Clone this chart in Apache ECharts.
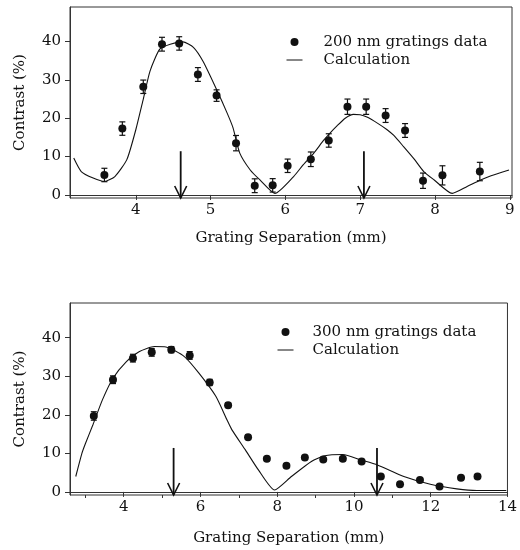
<!DOCTYPE html>
<html>
<head>
<meta charset="utf-8">
<script src="https://cdn.jsdelivr.net/npm/echarts@6/dist/echarts.min.js"></script>
<style>
  html, body { margin: 0; padding: 0; background: #fff; }
  #main { width: 520px; height: 550px; }
</style>
</head>
<body>
<div id="main"></div>
<script>
// ---- top panel: 200 nm gratings ----
var topX   = [3.58, 3.82, 4.10, 4.35, 4.58, 4.83, 5.08, 5.34, 5.59, 5.83, 6.03, 6.34, 6.58, 6.83, 7.08, 7.34, 7.60, 7.84, 8.10, 8.60];
var topY   = [5.2, 17.3, 28.2, 39.3, 39.5, 31.4, 25.9, 13.5, 2.4, 2.5, 7.6, 9.3, 14.2, 23.0, 23.0, 20.7, 16.8, 3.7, 5.1, 6.1];
var topErr = [1.75, 1.75, 1.75, 1.8, 1.75, 1.8, 1.5, 2.0, 1.8, 1.75, 1.75, 1.9, 1.75, 2.0, 2.0, 1.8, 1.8, 2.0, 2.5, 2.4];
var topCalcX = [3.17, 3.27, 3.43, 3.58, 3.72, 3.88, 4.0, 4.1, 4.19, 4.32, 4.46, 4.63, 4.77, 4.90, 5.08, 5.22, 5.30, 5.39, 5.53, 5.66, 5.86,
                6.11, 6.24, 6.38, 6.51, 6.60, 6.69, 6.80, 6.91, 7.00, 7.09, 7.24, 7.36, 7.45, 7.58, 7.72, 7.85, 7.99, 8.23, 8.43, 8.61, 8.75, 8.99];
var topCalcY = [9.6, 6.1, 4.4, 3.5, 4.8, 9.2, 17, 25, 32.3, 38, 39.3, 39.9, 38.5, 34.8, 27.5, 21.4, 17.5, 10.9, 6.5, 3.9, 0.4,
                4.8, 7.9, 10.9, 14.2, 16.2, 18.0, 20.0, 21.0, 20.9, 20.3, 18.6, 17.0, 15.5, 12.6, 9.4, 6.1, 3.9, 0.4, 2.2, 3.9, 5.0, 6.5];
var topArrows = [4.6, 7.05];
var topTicks = [4, 5, 6, 7, 8, 9];

// ---- bottom panel: 300 nm gratings ----
var botX   = [3.22, 3.72, 4.24, 4.73, 5.24, 5.72, 6.24, 6.72, 7.24, 7.73, 8.24, 8.72, 9.20, 9.71, 10.20, 10.70, 11.20, 11.72, 12.23, 12.79, 13.22];
var botY   = [19.7, 29.1, 34.7, 36.2, 36.9, 35.4, 28.4, 22.5, 14.2, 8.6, 6.8, 8.9, 8.4, 8.6, 7.9, 4.0, 2.0, 3.1, 1.4, 3.7, 4.0];
var botErr = [1.1, 1.0, 1.0, 1.0, 0.8, 1.0, 0.8, 0.6, 0.5, 0.5, 0.5, 0.5, 0.5, 0.5, 0.5, 0.5, 0.5, 0.5, 0.5, 0.5, 0.5];
var botCalcX = [2.75, 2.91, 3.0, 3.2, 3.45, 3.72, 4.07, 4.41, 4.80, 5.10, 5.58, 5.96, 6.40, 6.69, 6.82, 7.17, 7.51, 7.93,
                8.37, 8.89, 9.24, 9.71, 10.18, 10.61, 11.30, 11.99, 12.68, 13.20, 13.97];
var botCalcY = [4.0, 10.0, 12.5, 17.5, 24, 29.5, 33.8, 36.4, 37.7, 37.6, 35.1, 30.8, 24.8, 18.7, 16.1, 10.9, 5.7, 0.5,
                4.0, 7.9, 9.4, 9.7, 8.3, 7.0, 4.0, 2.0, 0.8, 0.35, 0.35];
var botArrows = [5.3, 10.6];
var botTicks = [4, 6, 8, 10, 12, 14];
var botMinorTicks = [3, 5, 7, 9, 11, 13];

var yTicks = [0, 10, 20, 30, 40];
var arrowTop = 11.4;

var ink = '#111';
var font = 'DejaVu Serif';

function pairs(xs, ys) {
  return xs.map(function (x, i) { return [x, ys[i]]; });
}
function triples(xs, ys, es) {
  return xs.map(function (x, i) { return [x, ys[i], es[i]]; });
}

function renderErrorBar(params, api) {
  var x = api.value(0), y = api.value(1), e = api.value(2);
  var hi = api.coord([x, y + e]);
  var lo = api.coord([x, y - e]);
  var w = 3;
  var st = { stroke: ink, lineWidth: 1.2 };
  return {
    type: 'group',
    children: [
      { type: 'line', shape: { x1: hi[0], y1: hi[1], x2: lo[0], y2: lo[1] }, style: st },
      { type: 'line', shape: { x1: hi[0] - w, y1: hi[1], x2: hi[0] + w, y2: hi[1] }, style: st },
      { type: 'line', shape: { x1: lo[0] - w, y1: lo[1], x2: lo[0] + w, y2: lo[1] }, style: st }
    ]
  };
}

function renderArrow(params, api) {
  var x = api.value(0);
  var p0 = api.coord([x, arrowTop]);
  var p1 = api.coord([x, -0.8]);
  return {
    type: 'group',
    children: [
      { type: 'line', shape: { x1: p0[0], y1: p0[1], x2: p1[0], y2: p1[1] }, style: { stroke: ink, lineWidth: 1.8 } },
      { type: 'polyline', shape: { points: [[p1[0] - 6, p1[1] - 12], [p1[0], p1[1]], [p1[0] + 6, p1[1] - 12]] },
        style: { stroke: ink, fill: null, lineWidth: 1.6 } }
    ]
  };
}

function xAxisFor(gridIndex, min, max, ticks, gap) {
  return {
    type: 'value', gridIndex: gridIndex, min: min, max: max, position: 'bottom',
    name: 'Grating Separation (mm)', nameLocation: 'middle', nameGap: gap,
    nameTextStyle: { fontFamily: font, fontSize: 15, color: ink },
    axisLine: { lineStyle: { color: '#333', width: 1 } },
    axisTick: { customValues: ticks, length: 5, lineStyle: { color: '#333' } },
    axisLabel: { customValues: ticks, margin: 5, fontFamily: font, fontSize: 15, color: ink },
    splitLine: { show: false }
  };
}

function yAxisFor(gridIndex) {
  return {
    type: 'value', gridIndex: gridIndex, min: -0.8, max: 49,
    name: 'Contrast (%)', nameLocation: 'middle', nameGap: 42, nameRotate: 90,
    nameTextStyle: { fontFamily: font, fontSize: 15, color: ink },
    axisLine: { show: true, lineStyle: { color: '#333', width: 1 } },
    axisTick: { show: true, customValues: yTicks, length: 5, lineStyle: { color: '#333' } },
    axisLabel: { customValues: yTicks, margin: 9, fontFamily: font, fontSize: 15, color: ink },
    splitLine: { show: false }
  };
}

var minorAxis = {
  type: 'value', gridIndex: 1, min: 2.6, max: 14, position: 'bottom',
  axisLine: { show: false },
  axisTick: { customValues: botMinorTicks, length: 3, lineStyle: { color: '#333' } },
  axisLabel: { show: false },
  splitLine: { show: false }
};

var legendText = { fontFamily: font, fontSize: 15, color: ink, lineHeight: 18 };

var chart = echarts.init(document.getElementById('main'));
chart.setOption({
  animation: false,
  backgroundColor: '#fff',
  grid: [
    { left: 70, right: 8, top: 7, height: 191, show: true, borderColor: '#333', borderWidth: 1 },
    { left: 70, right: 9, top: 303, height: 192, show: true, borderColor: '#333', borderWidth: 1 }
  ],
  legend: [
    { orient: 'vertical', left: 286, top: 33, padding: 0, itemGap: 0, itemWidth: 16, itemHeight: 8,
      data: ['200 nm gratings data', { name: 'Calculation', itemStyle: { opacity: 0 }, lineStyle: { width: 1 } }],
      textStyle: Object.assign({ padding: [0, 0, 0, 16] }, legendText) },
    { orient: 'vertical', left: 277, top: 323, padding: 0, itemGap: 0, itemWidth: 16, itemHeight: 8,
      data: ['300 nm gratings data', { name: 'Calculation ', itemStyle: { opacity: 0 }, lineStyle: { width: 1 } }],
      textStyle: Object.assign({ padding: [0, 0, 0, 14] }, legendText) }
  ],
  xAxis: [xAxisFor(0, 3.12, 9.03, topTicks, 33), xAxisFor(1, 2.6, 14, botTicks, 36), minorAxis],
  yAxis: [yAxisFor(0), yAxisFor(1)],
  series: [
    {
      name: 'Calculation', type: 'line', xAxisIndex: 0, yAxisIndex: 0,
      data: pairs(topCalcX, topCalcY), symbol: 'none', smooth: 0.2,
      lineStyle: { color: ink, width: 1.1 }, itemStyle: { color: ink }
    },
    {
      type: 'custom', xAxisIndex: 0, yAxisIndex: 0, renderItem: renderErrorBar,
      data: triples(topX, topY, topErr), encode: { x: 0, y: 1 }, z: 3
    },
    {
      name: '200 nm gratings data', type: 'scatter', xAxisIndex: 0, yAxisIndex: 0,
      data: pairs(topX, topY), symbol: 'circle', symbolSize: 8, itemStyle: { color: ink, opacity: 1 }, z: 4
    },
    {
      type: 'custom', xAxisIndex: 0, yAxisIndex: 0, renderItem: renderArrow,
      data: topArrows.map(function (x) { return [x, arrowTop]; }), encode: { x: 0, y: 1 }, z: 5
    },
    {
      name: 'Calculation ', type: 'line', xAxisIndex: 1, yAxisIndex: 1,
      data: pairs(botCalcX, botCalcY), symbol: 'none', smooth: 0.2,
      lineStyle: { color: ink, width: 1.1 }, itemStyle: { color: ink }
    },
    {
      type: 'custom', xAxisIndex: 1, yAxisIndex: 1, renderItem: renderErrorBar,
      data: triples(botX, botY, botErr), encode: { x: 0, y: 1 }, z: 3
    },
    {
      name: '300 nm gratings data', type: 'scatter', xAxisIndex: 1, yAxisIndex: 1,
      data: pairs(botX, botY), symbol: 'circle', symbolSize: 8, itemStyle: { color: ink, opacity: 1 }, z: 4
    },
    {
      type: 'custom', xAxisIndex: 1, yAxisIndex: 1, renderItem: renderArrow,
      data: botArrows.map(function (x) { return [x, arrowTop]; }), encode: { x: 0, y: 1 }, z: 5
    }
  ]
});
</script>
</body>
</html>
